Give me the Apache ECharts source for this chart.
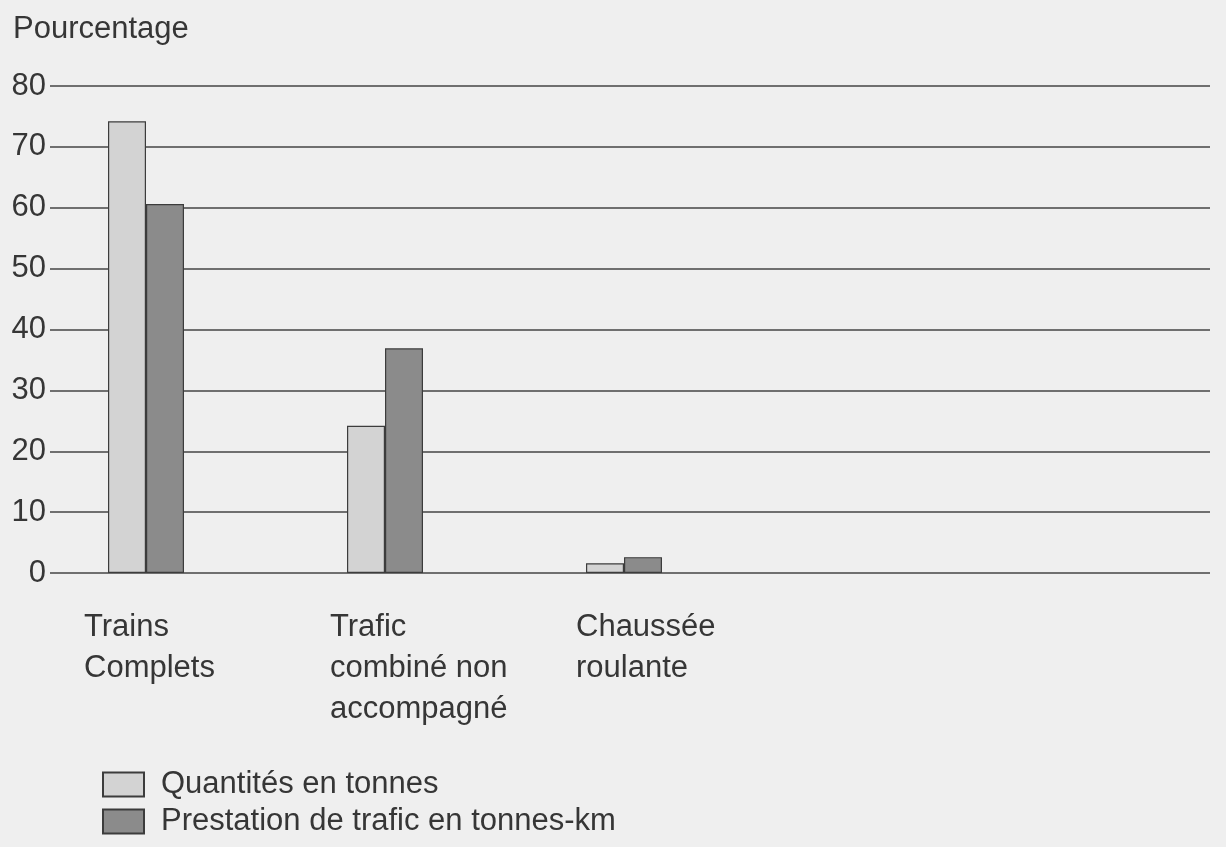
<!DOCTYPE html>
<html>
<head>
<meta charset="utf-8">
<script src="https://cdn.jsdelivr.net/npm/echarts@6/dist/echarts.min.js"></script>
<style>
  html, body { margin: 0; padding: 0; background: #efefef; }
  #chart { width: 1226px; height: 847px; }
</style>
</head>
<body>
<div id="chart"></div>
<script>
// données
const categories = ['Trains\nComplets', 'Trafic\ncombiné non\naccompagné', 'Chaussée\nroulante']
const quantites = [74.2, 24.2, 1.6]
const prestation = [60.6, 36.9, 2.6]
const yTicks = [0, 10, 20, 30, 40, 50, 60, 70, 80]

const font = 'Liberation Sans, Arial, sans-serif'
const textColor = '#363636'
const fs = 31

const chart = echarts.init(document.getElementById('chart'))

const option = {
  backgroundColor: '#efefef',
  animation: false,
  textStyle: { fontFamily: font, color: textColor },
  title: {
    text: 'Pourcentage',
    left: 8,
    top: 9,
    textStyle: { fontFamily: font, fontSize: fs, fontWeight: 'normal', color: textColor }
  },
  legend: {
    orient: 'vertical',
    left: 97,
    top: 764,
    itemWidth: 41,
    itemHeight: 24,
    itemGap: 6,
    icon: 'rect',
    selectedMode: false,
    textStyle: { fontFamily: font, fontSize: fs, lineHeight: 30, color: textColor, padding: [0, 0, 0, 12] },
    data: ['Quantités en tonnes', 'Prestation de trafic en tonnes-km']
  },
  grid: [
    // grille des lignes horizontales (pleine largeur)
    { left: 50, right: 16, top: 86, bottom: 274 },
    // grille des barres
    { left: 26.5, width: 717, top: 86, bottom: 274 },
    // grille des libellés de catégories
    { left: 84, width: 492, top: 86, bottom: 274 }
  ],
  xAxis: [
    { gridIndex: 0, type: 'category', data: categories, show: false },
    { gridIndex: 1, type: 'category', data: categories, show: false },
    {
      gridIndex: 2, type: 'category', data: categories, boundaryGap: false,
      axisLine: { show: false }, axisTick: { show: false },
      axisLabel: {
        align: 'left', margin: 34, interval: 0,
        fontFamily: font, fontSize: fs, lineHeight: 41, color: textColor
      }
    }
  ],
  yAxis: [
    {
      gridIndex: 0, type: 'value', min: yTicks[0], max: yTicks[yTicks.length - 1], interval: 10,
      axisLine: { show: false }, axisTick: { show: false },
      axisLabel: { margin: 4, fontFamily: font, fontSize: fs, color: textColor },
      splitLine: { lineStyle: { color: '#444444', width: 1.6 } }
    },
    { gridIndex: 1, type: 'value', min: 0, max: 80, interval: 10, show: false },
    { gridIndex: 2, type: 'value', min: 0, max: 80, interval: 10, show: false }
  ],
  series: [
    {
      name: 'Quantités en tonnes',
      type: 'bar',
      xAxisIndex: 1, yAxisIndex: 1,
      data: quantites,
      barWidth: 38,
      barGap: '0%',
      itemStyle: { color: '#d3d3d3', borderColor: '#3c3c3c', borderWidth: 1.2 }
    },
    {
      name: 'Prestation de trafic en tonnes-km',
      type: 'bar',
      xAxisIndex: 1, yAxisIndex: 1,
      data: prestation,
      barWidth: 38,
      barGap: '0%',
      itemStyle: { color: '#8b8b8b', borderColor: '#3c3c3c', borderWidth: 1.2 }
    }
  ]
}

chart.setOption(option)
</script>
</body>
</html>
